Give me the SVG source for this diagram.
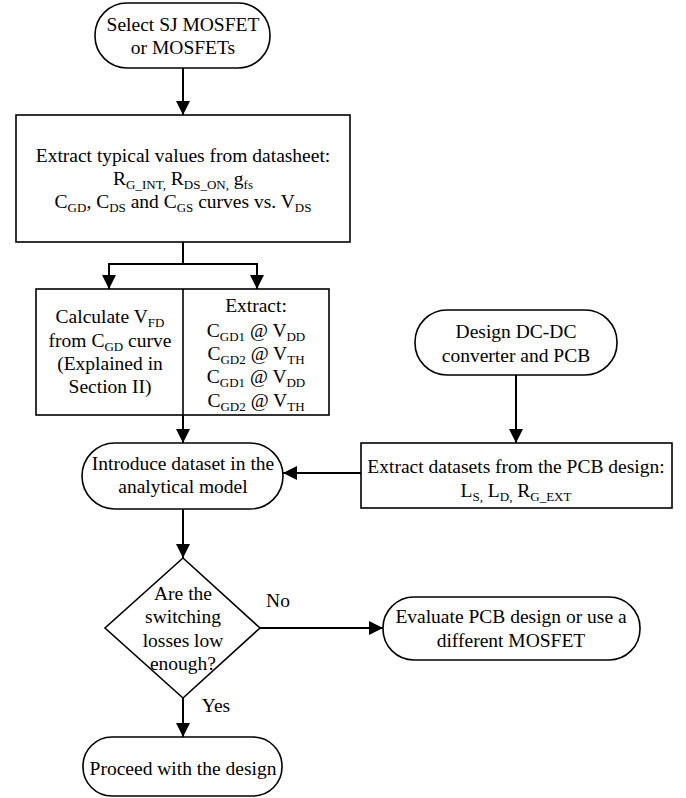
<svg xmlns="http://www.w3.org/2000/svg" width="686" height="798" viewBox="0 0 686 798">
<defs>
<marker id="ah" markerUnits="userSpaceOnUse" viewBox="0 0 14 14" refX="14" refY="7" markerWidth="14" markerHeight="14" orient="auto">
<path d="M0,0 L14,7 L0,14 z" fill="#000"/>
</marker>
<style>
text{font-family:"Liberation Serif","Times New Roman",serif;font-size:19.5px;fill:#000;text-anchor:middle}
.s{font-size:13px}
.sh{fill:#fff;stroke:#000;stroke-width:1.6}
.c{fill:none;stroke:#000;stroke-width:2}
.a{marker-end:url(#ah)}
</style>
</defs>
<rect width="686" height="798" fill="#fff"/>
<g id="connectors">
<path class="c a" d="M183,68 V115"/>
<path class="c" d="M183,242 V264"/>
<path class="c a" d="M183,264 H109 V289"/>
<path class="c a" d="M183,264 H257 V289"/>
<path class="c a" d="M183,415 V443"/>
<path class="c a" d="M516,375 V443"/>
<path class="c a" d="M361,473 H283"/>
<path class="c a" d="M183,509 V558"/>
<path class="c a" d="M260,628 H383"/>
<path class="c a" d="M183,698 V737"/>
<text x="278" y="607">No</text>
<text x="216" y="712">Yes</text>
</g>
<g id="select">
<rect class="sh" x="95" y="3" width="175" height="65" rx="32" ry="32"/>
<text x="183" y="31">Select SJ MOSFET</text>
<text x="183" y="54">or MOSFETs</text>
</g>
<g id="extract-datasheet">
<rect class="sh" x="16" y="115" width="334" height="127"/>
<text x="183" y="162">Extract typical values from datasheet:</text>
<text x="183" y="185">R<tspan class="s" dy="4">G_INT,</tspan><tspan dy="-4"> R</tspan><tspan class="s" dy="4">DS_ON,</tspan><tspan dy="-4"> g</tspan><tspan class="s" dy="4">fs</tspan></text>
<text x="183" y="208">C<tspan class="s" dy="4">GD</tspan><tspan dy="-4">, C</tspan><tspan class="s" dy="4">DS</tspan><tspan dy="-4"> and C</tspan><tspan class="s" dy="4">GS</tspan><tspan dy="-4"> curves vs. V</tspan><tspan class="s" dy="4">DS</tspan></text>
</g>
<g id="calc-extract">
<rect class="sh" x="36" y="289" width="293" height="126"/>
<path class="c" d="M183,289 V415" style="stroke-width:1.6"/>
<text x="110" y="323">Calculate V<tspan class="s" dy="4">FD</tspan></text>
<text x="110" y="347">from C<tspan class="s" dy="4">GD</tspan><tspan dy="-4"> curve</tspan></text>
<text x="110" y="370">(Explained in</text>
<text x="110" y="393">Section II)</text>
<text x="256" y="312">Extract:</text>
<text x="256" y="337">C<tspan class="s" dy="4">GD1</tspan><tspan dy="-4"> @ V</tspan><tspan class="s" dy="4">DD</tspan></text>
<text x="256" y="360">C<tspan class="s" dy="4">GD2</tspan><tspan dy="-4"> @ V</tspan><tspan class="s" dy="4">TH</tspan></text>
<text x="256" y="383">C<tspan class="s" dy="4">GD1</tspan><tspan dy="-4"> @ V</tspan><tspan class="s" dy="4">DD</tspan></text>
<text x="256" y="407">C<tspan class="s" dy="4">GD2</tspan><tspan dy="-4"> @ V</tspan><tspan class="s" dy="4">TH</tspan></text>
</g>
<g id="design-dcdc">
<rect class="sh" x="415" y="310" width="202" height="65" rx="32" ry="32"/>
<text x="516" y="338">Design DC-DC</text>
<text x="516" y="362">converter and PCB</text>
</g>
<g id="extract-pcb">
<rect class="sh" x="361" y="443" width="311" height="65"/>
<text x="516" y="473">Extract datasets from the PCB design:</text>
<text x="516" y="497">L<tspan class="s" dy="4">S,</tspan><tspan dy="-4"> L</tspan><tspan class="s" dy="4">D,</tspan><tspan dy="-4"> R</tspan><tspan class="s" dy="4">G_EXT</tspan></text>
</g>
<g id="introduce">
<rect class="sh" x="82" y="443" width="201" height="66" rx="33" ry="33"/>
<text x="183" y="470">Introduce dataset in the</text>
<text x="183" y="493">analytical model</text>
</g>
<g id="decision">
<polygon class="sh" points="183,558 260,628 183,698 105,628"/>
<text x="183" y="600">Are the</text>
<text x="183" y="623">switching</text>
<text x="183" y="647">losses low</text>
<text x="183" y="670">enough?</text>
</g>
<g id="evaluate">
<rect class="sh" x="383" y="597" width="257" height="63" rx="31" ry="31"/>
<text x="511" y="623">Evaluate PCB design or use a</text>
<text x="511" y="647">different MOSFET</text>
</g>
<g id="proceed">
<rect class="sh" x="83" y="737" width="199" height="59" rx="29" ry="29"/>
<text x="183" y="775">Proceed with the design</text>
</g>
</svg>
